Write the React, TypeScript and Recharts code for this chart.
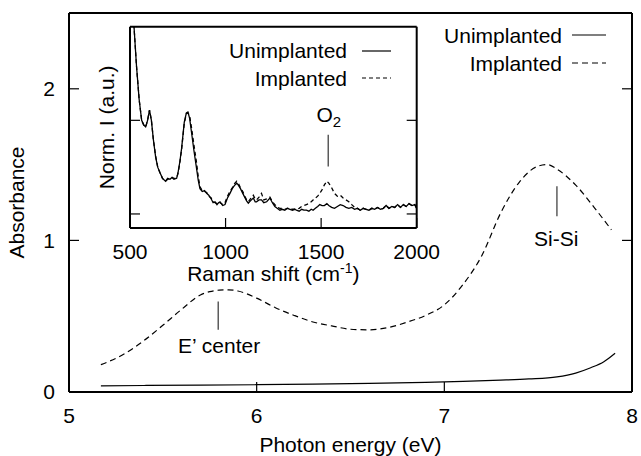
import React from 'react';
import {
  LineChart,
  Line,
  XAxis,
  YAxis,
  Legend,
  Label,
  ReferenceLine,
  ReferenceDot,
} from 'recharts';

// main panel: absorbance vs photon energy
const ENERGY_IMPL = [5.17, 5.2, 5.3, 5.4, 5.5, 5.6, 5.7, 5.75, 5.8, 5.85, 5.9, 6.0, 6.1, 6.2, 6.3, 6.4, 6.5, 6.6, 6.7, 6.8, 6.9, 7.0, 7.1, 7.2, 7.3, 7.4, 7.5, 7.55, 7.6, 7.7, 7.8, 7.89];
const ABS_IMPL = [0.18, 0.195, 0.255, 0.34, 0.44, 0.545, 0.64, 0.662, 0.672, 0.674, 0.666, 0.619, 0.556, 0.505, 0.462, 0.436, 0.414, 0.41, 0.425, 0.46, 0.505, 0.575, 0.71, 0.9, 1.18, 1.385, 1.49, 1.5, 1.47, 1.365, 1.215, 1.07];
const ENERGY_UNIMPL = [5.17, 5.4, 5.7, 6.0, 6.3, 6.6, 6.9, 7.1, 7.3, 7.45, 7.6, 7.7, 7.78, 7.85, 7.91];
const ABS_UNIMPL = [0.04, 0.043, 0.045, 0.048, 0.052, 0.057, 0.064, 0.07, 0.078, 0.086, 0.1, 0.125, 0.16, 0.2, 0.256];
const ENERGY_TICKS = [5, 6, 7, 8];
const ABS_TICKS = [0, 1, 2];

// inset: Raman spectra
const SHIFT = [
  515, 521, 534, 548, 561, 572, 582, 592, 602, 612,
  622, 634, 645, 657, 670, 686, 697, 709, 720, 730,
  744, 752, 761, 770, 784, 795, 803, 812, 822, 835,
  848, 857, 866, 878, 890, 901, 912, 925, 935, 945,
  955, 963, 971, 985, 997, 1010, 1023, 1035, 1045, 1058,
  1066, 1078, 1090, 1100, 1110, 1119, 1130, 1145, 1155, 1162,
  1175, 1188, 1200, 1215, 1232, 1245, 1258, 1270, 1284, 1296,
  1310, 1323, 1337, 1350, 1362, 1371, 1385, 1398, 1410, 1423,
  1436, 1448, 1458, 1470, 1482, 1493, 1505, 1517, 1530, 1540,
  1555, 1570, 1585, 1600, 1615, 1630, 1645, 1660, 1675, 1690,
  1705, 1720, 1735, 1750, 1765, 1780, 1795, 1810, 1825, 1840,
  1855, 1870, 1885, 1900, 1915, 1930, 1945, 1960, 1975, 1990, 2000,
];
const RAMAN_UNIMPL = [
  2.25, 2.0, 1.58, 1.22, 1.0, 0.95, 0.93, 1.0, 1.11, 1.0,
  0.8, 0.61, 0.5, 0.44, 0.38, 0.35, 0.38, 0.37, 0.39, 0.37,
  0.38, 0.45, 0.56, 0.7, 0.98, 1.08, 1.09, 1.02, 0.87, 0.67,
  0.49, 0.36, 0.27, 0.24, 0.25, 0.22, 0.2, 0.16, 0.12, 0.13,
  0.1, 0.12, 0.13, 0.09, 0.1, 0.17, 0.22, 0.27, 0.3, 0.33,
  0.31, 0.27, 0.22, 0.18, 0.14, 0.115, 0.14, 0.17, 0.13, 0.13,
  0.15, 0.15, 0.12, 0.13, 0.17, 0.12, 0.08, 0.06, 0.04, 0.05,
  0.04, 0.06, 0.05, 0.04, 0.05, 0.04, 0.03, 0.05, 0.04, 0.04,
  0.03, 0.05, 0.04, 0.06, 0.08, 0.1, 0.09, 0.09, 0.11, 0.09,
  0.07, 0.06, 0.08, 0.1, 0.09, 0.07, 0.06, 0.07, 0.05, 0.06,
  0.04, 0.06, 0.05, 0.04, 0.06, 0.05, 0.07, 0.05, 0.06, 0.09,
  0.06, 0.08, 0.07, 0.1, 0.07, 0.1, 0.08, 0.11, 0.09, 0.1, 0.06,
];
const RAMAN_IMPL = [
  2.25, 2.0, 1.58, 1.22, 1.0, 0.95, 0.93, 1.0, 1.11, 1.0,
  0.8, 0.62, 0.5, 0.44, 0.38, 0.35, 0.37, 0.38, 0.39, 0.38,
  0.38, 0.44, 0.55, 0.69, 0.97, 1.07, 1.08, 1.05, 0.92, 0.73,
  0.55, 0.4, 0.29, 0.25, 0.24, 0.23, 0.19, 0.17, 0.13, 0.12,
  0.11, 0.12, 0.12, 0.1, 0.12, 0.19, 0.24, 0.28, 0.32, 0.35,
  0.33, 0.28, 0.24, 0.19, 0.15, 0.13, 0.16, 0.2, 0.16, 0.15,
  0.18, 0.22, 0.15, 0.16, 0.18, 0.13, 0.1, 0.07, 0.06, 0.06,
  0.05, 0.06, 0.06, 0.05, 0.05, 0.05, 0.06, 0.08, 0.09, 0.1,
  0.11, 0.13, 0.15, 0.17, 0.19, 0.22, 0.26, 0.31, 0.35, 0.33,
  0.28, 0.22, 0.19, 0.2, 0.17, 0.15, 0.13, 0.1, 0.07, 0.06,
  0.04, 0.06, 0.05, 0.04, 0.06, 0.05, 0.07, 0.05, 0.06, 0.09,
  0.06, 0.08, 0.07, 0.1, 0.07, 0.1, 0.08, 0.11, 0.09, 0.1, 0.06,
];
const SHIFT_TICKS = [500, 1000, 1500, 2000];
const RAMAN_TICKS = [0, 1];

const SERIES = ['Unimplanted', 'Implanted'];

const implData = ENERGY_IMPL.map((x, i) => ({ x, y: ABS_IMPL[i] }));
const unimplData = ENERGY_UNIMPL.map((x, i) => ({ x, y: ABS_UNIMPL[i] }));
const ramanUnimpl = SHIFT.map((x, i) => ({ x, y: RAMAN_UNIMPL[i] }));
const ramanImpl = SHIFT.map((x, i) => ({ x, y: RAMAN_IMPL[i] }));

const FONT = '"Liberation Sans", Arial, Helvetica, sans-serif';
const FS = 21;
const tickText = { fill: '#000', fontSize: FS };
const frame = { stroke: '#000', strokeWidth: 2 };
const tickLn = { stroke: '#000', strokeWidth: 1.2 };
const noLabel = () => '';

function Key({ payload, rowH, gap, sampleW, dash }: any) {
  const rows = SERIES.map((n) => (payload || []).find((p: any) => p.value === n)).filter(Boolean);
  return (
    <div style={{ fontFamily: FONT }}>
      {rows.map((p: any) => (
        <div
          key={p.value}
          style={{ height: rowH, display: 'flex', alignItems: 'center', justifyContent: 'flex-end', fontSize: FS, color: '#000' }}
        >
          <span style={{ lineHeight: 1 }}>{p.value}</span>
          <svg width={sampleW} height={4} style={{ marginLeft: gap, display: 'block' }}>
            <line
              x1={0}
              y1={2}
              x2={sampleW}
              y2={2}
              stroke="#000"
              strokeWidth={1.2}
              strokeDasharray={p.value === 'Implanted' ? dash : undefined}
            />
          </svg>
        </div>
      ))}
    </div>
  );
}

const RamanLabel = (props: any) => {
  const vb = props.viewBox;
  return (
    <text x={vb.x + vb.width / 2} y={vb.y + vb.height} textAnchor="middle" fontSize={FS} fill="#000">
      Raman shift (cm<tspan fontSize={14} dy={-8}>-1</tspan>
      <tspan dy={8}>)</tspan>
    </text>
  );
};

const O2Label = (props: any) => {
  const vb = props.viewBox;
  return (
    <text x={vb.x + vb.width / 2} y={vb.y + vb.height / 2} dy={7} textAnchor="middle" fontSize={FS} fill="#000">
      O<tspan fontSize={15} dy={5}>2</tspan>
    </text>
  );
};

function Inset() {
  return (
    <LineChart width={390} height={270} margin={{ top: 5.7, right: 52.3, bottom: 9, left: 10 }}>
      <XAxis
        dataKey="x"
        type="number"
        domain={[500, 2000]}
        ticks={SHIFT_TICKS}
        interval={0}
        height={53}
        stroke="#000"
        axisLine={frame}
        tickLine={tickLn}
        tickSize={-10}
        tickMargin={26}
        tick={tickText}
        allowDataOverflow
        label={<Label content={RamanLabel} />}
      />
      <XAxis
        xAxisId="top"
        orientation="top"
        type="number"
        domain={[500, 2000]}
        ticks={SHIFT_TICKS}
        interval={0}
        height={1}
        stroke="#000"
        axisLine={frame}
        tickLine={tickLn}
        tickSize={-10}
        tickFormatter={noLabel}
        allowDataOverflow
      />
      <YAxis
        type="number"
        domain={[-0.15, 2.0]}
        ticks={RAMAN_TICKS}
        interval={0}
        width={40}
        stroke="#000"
        axisLine={frame}
        tickLine={tickLn}
        tickSize={-10}
        tickFormatter={noLabel}
        allowDataOverflow
        label={{ value: 'Norm. I (a.u.)', angle: -90, position: 'center', dx: -3, fill: '#000', fontSize: FS }}
      />
      <YAxis
        yAxisId="right"
        orientation="right"
        type="number"
        domain={[-0.15, 2.0]}
        ticks={RAMAN_TICKS}
        interval={0}
        width={1}
        stroke="#000"
        axisLine={frame}
        tickLine={tickLn}
        tickSize={-10}
        tickFormatter={noLabel}
        allowDataOverflow
      />
      <Line data={ramanUnimpl} dataKey="y" name="Unimplanted" type="linear" stroke="#000" strokeWidth={1.3} dot={false} activeDot={false} isAnimationActive={false} />
      <Line data={ramanImpl} dataKey="y" name="Implanted" type="linear" stroke="#000" strokeWidth={1.3} strokeDasharray="4 3" dot={false} activeDot={false} isAnimationActive={false} />
      <ReferenceLine segment={[{ x: 1537, y: 0.507 }, { x: 1537, y: 0.847 }]} stroke="#333" strokeWidth={1.2} />
      <ReferenceDot x={1540} y={1.058} r={0} fill="none" stroke="none" label={<Label content={O2Label} />} />
      <Legend
        layout="vertical"
        align="center"
        verticalAlign="middle"
        wrapperStyle={{ left: 111, top: 17, width: 200 }}
        content={(p: any) => <Key {...p} rowH={27.6} gap={15} sampleW={29} dash="4 3" />}
      />
    </LineChart>
  );
}

export default function App() {
  return (
    <div style={{ position: 'absolute', left: 0, top: 0, width: 641, height: 456, background: '#fff', fontFamily: FONT }}>
      <LineChart width={641} height={456} margin={{ top: 12, right: 8, bottom: 4, left: 9 }}>
        <XAxis
          dataKey="x"
          type="number"
          domain={[5, 8]}
          ticks={ENERGY_TICKS}
          interval={0}
          height={60}
          stroke="#000"
          axisLine={frame}
          tickLine={tickLn}
          tickSize={-10}
          tickMargin={26}
          tick={tickText}
          allowDataOverflow
          label={{ value: 'Photon energy (eV)', position: 'insideBottom', offset: 0, fill: '#000', fontSize: FS }}
        />
        <XAxis
          xAxisId="top"
          orientation="top"
          type="number"
          domain={[5, 8]}
          ticks={ENERGY_TICKS}
          interval={0}
          height={1}
          stroke="#000"
          axisLine={frame}
          tickLine={tickLn}
          tickSize={-10}
          tickFormatter={noLabel}
          allowDataOverflow
        />
        <YAxis
          type="number"
          domain={[0, 2.5]}
          ticks={ABS_TICKS}
          interval={0}
          width={60}
          stroke="#000"
          axisLine={frame}
          tickLine={tickLn}
          tickSize={-10}
          tickMargin={24}
          tick={tickText}
          allowDataOverflow
          label={{ value: 'Absorbance', angle: -90, position: 'center', dx: -22, fill: '#000', fontSize: FS }}
        />
        <YAxis
          yAxisId="right"
          orientation="right"
          type="number"
          domain={[0, 2.5]}
          ticks={ABS_TICKS}
          interval={0}
          width={1}
          stroke="#000"
          axisLine={frame}
          tickLine={tickLn}
          tickSize={-10}
          tickFormatter={noLabel}
          allowDataOverflow
        />
        <Line data={unimplData} dataKey="y" name="Unimplanted" type="monotone" stroke="#000" strokeWidth={1.2} dot={false} activeDot={false} isAnimationActive={false} />
        <Line data={implData} dataKey="y" name="Implanted" type="monotone" stroke="#000" strokeWidth={1.2} strokeDasharray="6 4" dot={false} activeDot={false} isAnimationActive={false} />
        <ReferenceLine segment={[{ x: 5.795, y: 0.41 }, { x: 5.795, y: 0.597 }]} stroke="#333" strokeWidth={1.2} />
        <ReferenceLine segment={[{ x: 7.6, y: 1.16 }, { x: 7.6, y: 1.357 }]} stroke="#333" strokeWidth={1.2} />
        <ReferenceDot x={5.8} y={0.305} r={0} fill="none" stroke="none" label={{ value: 'E\u2019 center', position: 'center', fill: '#000', fontSize: FS }} />
        <ReferenceDot x={7.596} y={1.01} r={0} fill="none" stroke="none" label={{ value: 'Si-Si', position: 'center', fill: '#000', fontSize: FS }} />
        <Legend
          layout="vertical"
          align="center"
          verticalAlign="middle"
          wrapperStyle={{ left: 400, top: 21, width: 206 }}
          content={(p: any) => <Key {...p} rowH={28.3} gap={10} sampleW={34} dash="6 4" />}
        />
      </LineChart>
      <div style={{ position: 'absolute', left: 80, top: 20 }}>
        <Inset />
      </div>
    </div>
  );
}
